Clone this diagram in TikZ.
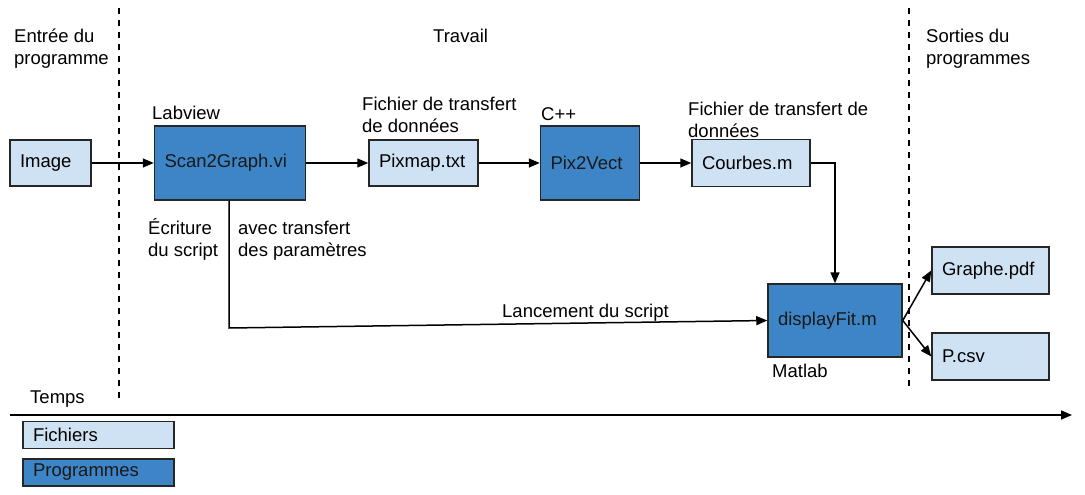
\documentclass[tikz,border=0pt]{standalone}
\usepackage{fontspec}
\setmainfont{Liberation Sans}
\usepackage{tikz}
\usetikzlibrary{positioning, calc}
\usetikzlibrary{arrows.meta}
\definecolor{fileblue}{HTML}{CFE2F3}
\definecolor{progblue}{HTML}{3D85C6}
\tikzstyle{filebox}=[rectangle,draw=black!85,line width=1.5pt,fill=fileblue,inner xsep=10pt,inner ysep=0pt,align=left]
\tikzstyle{progbox}=[filebox,fill=progblue,text=black!90]
\tikzstyle{label}=[inner sep=0pt,anchor=base west,align=left]
\tikzstyle{edgepath} = [-{Triangle[length=11pt,width=9pt]},line width=1.5pt,shorten >=0pt]
\tikzstyle{sepline}=[line width=1.5pt,dash pattern=on 6pt off 6pt]

\begin{document}
\begin{tikzpicture}[x=1pt,y=-1pt,font=\fontsize{18.5}{22}\selectfont]
        \useasboundingbox (0,0) rectangle (1085,495);
        % boxes of the chain
        \node[filebox, text width=61pt, minimum height=46pt] (img) at (50.5,163) {Image};
        \node[progbox, text width=131pt, minimum height=74pt, right =62pt of img] (scan) {Scan2Graph.vi};
        \node[filebox, text width=89pt, minimum height=46pt, right =62pt of scan] (pixmap) {Pixmap.txt};
        \node[progbox, text width=79pt, minimum height=74pt, right =61pt of pixmap] (pixvect) {Pix2Vect};
        \node[filebox, text width=98pt, minimum height=47pt, right =51pt of pixvect] (courbes) {Courbes.m};
        \node[progbox, text width=114pt, minimum height=73pt] (dfit) at (835,320.5) {displayFit.m};
        \node[filebox, text width=97pt, minimum height=47pt] (graphe) at (990.5,270.5) {Graphe.pdf};
        \node[filebox, text width=97pt, minimum height=47pt] (pcsv) at (990.5,356.5) {P.csv};

        % legend
        \node[filebox, text width=131pt, minimum height=27pt] (lfich) at (98.5,435) {Fichiers};
        \node[progbox, text width=131pt, minimum height=27pt, below =9pt of lfich] (lprog) {Programmes};

        % labels (base of the last line)
        \node[label] (tin) at (14,65) {Entrée du\\programme};
        \node[label] (twork) at (433,43) {Travail};
        \node[label] (tout) at (926,65) {Sorties du\\programmes};
        \node[label] (tlab) at (152,120) {Labview};
        \node[label] (tcpp) at (541,121) {C++};
        \node[label] (tpix) at (362,132) {Fichier de transfert\\de données};
        \node[label] (tcourb) at (688,137) {Fichier de transfert de\\données};
        \node[label] (tmat) at (772,377) {Matlab};
        \node[label] (tecr) at (148,256) {Écriture\\du script};
        \node[label] (tparam) at (238,256) {avec transfert\\des paramètres};
        \node[label] (tlanc) at (502,317) {Lancement du script};
        \node[label] (ttemps) at (30,403) {Temps};

        % separators and time axis
        \coordinate (s1a) at (119,8);
        \coordinate (s1b) at (119,400);
        \coordinate (s2a) at (909,8);
        \coordinate (s2b) at (909,389);
        \coordinate (ta) at (10,415);
        \coordinate (tb) at (1072,415);
        \coordinate (bend) at (229,328);
        \draw[sepline] (s1a) -- (s1b);
        \draw[sepline] (s2a) -- (s2b);

        \path[edgepath]
            (img) edge (scan)
            (scan) edge (pixmap)
            (pixmap) edge (pixvect)
            (pixvect) edge (courbes)
            (dfit.east) edge (graphe.west)
            (dfit.east) edge (pcsv.west)
            (ta) edge (tb);

        \draw[edgepath] (courbes.east) -| (dfit.north);
        \draw[edgepath] (scan.south -| bend) -- (bend) -- (dfit.west);
    \end{tikzpicture}
\end{document}
